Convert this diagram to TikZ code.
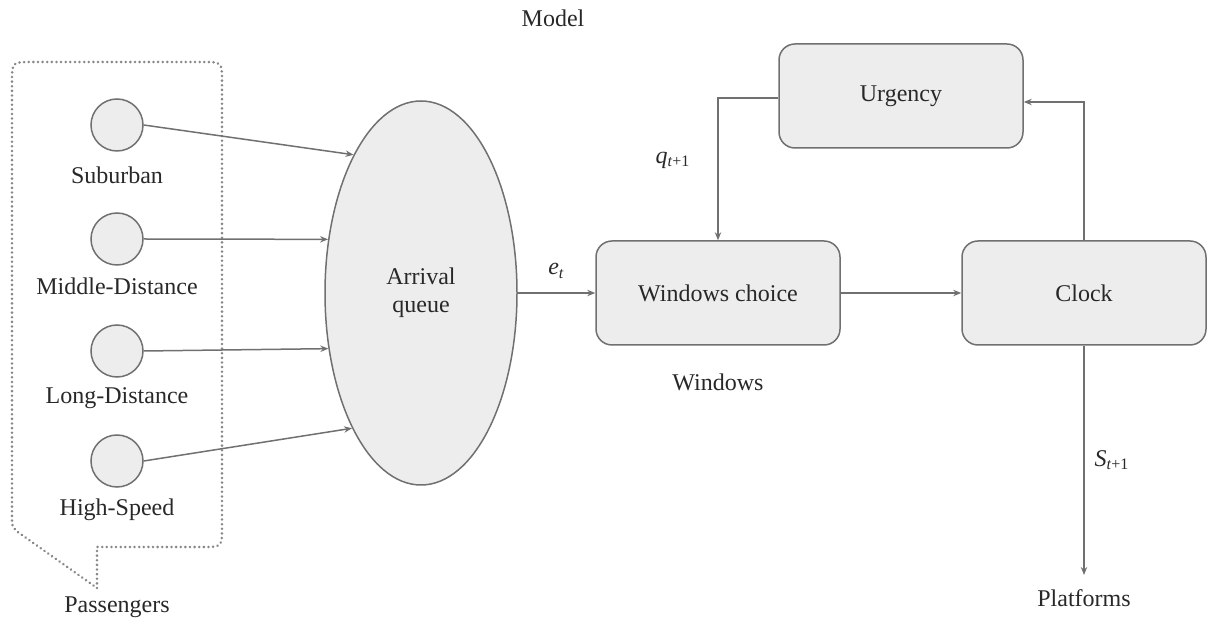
\documentclass[tikz,border=0pt]{standalone}
\usepackage{fontspec}
\setmainfont{LiberationSerif-Regular.ttf}[ItalicFont=LiberationSerif-Italic.ttf,
  BoldFont=LiberationSerif-Bold.ttf]
\usetikzlibrary{shapes.geometric,arrows.meta}
\definecolor{linegray}{RGB}{112,112,112}
\definecolor{boxfill}{RGB}{237,237,237}
\definecolor{dotgray}{RGB}{135,135,135}
\definecolor{ink}{RGB}{40,40,40}
\begin{document}
\begin{tikzpicture}[x=0.5pt,y=-0.5pt,
  font=\fontsize{12}{14}\selectfont, text=ink,
  box/.style={draw=linegray, fill=boxfill, line width=0.75pt, rounded corners=8pt,
    minimum width=122pt, minimum height=52pt, inner sep=0pt},
  src/.style={circle, draw=linegray, fill=boxfill, line width=0.75pt,
    minimum size=26pt, inner sep=0pt},
  queue/.style={ellipse, draw=linegray, fill=boxfill, line width=0.75pt,
    minimum width=96pt, minimum height=192pt, inner sep=0pt, align=center},
  arr/.style={draw=linegray, line width=0.75pt, -{Stealth[length=4pt,width=3.2pt]}},
  lbl/.style={inner sep=0pt},
  bubble/.style={draw=dotgray, line width=1.4pt, line cap=round, dash pattern=on 0.01pt off 2.3pt}]
\useasboundingbox (0,0) rectangle (1210,624);

% title
\node[lbl] (model) at (553,18) {Model};

% passenger group outline (speech bubble)
\draw[bubble] (97,588) -- (97,547) -- (202,547) .. controls (222,547) .. (222,527)
  -- (222,82) .. controls (222,62) .. (202,62) -- (32,62) .. controls (12,62) .. (12,82)
  -- (12,515) .. controls (12,528) .. (22,535) -- (97,588);
\node[lbl] (pass) at (117,607) {Passengers};

% passenger sources
\node[src] (s1) at (117,125) {};
\node[src] (s2) at (117,239) {};
\node[src] (s3) at (117,351) {};
\node[src] (s4) at (117,461) {};
\node[lbl] (l1) at (117,175) {Suburban};
\node[lbl] (l2) at (117,286) {Middle-Distance};
\node[lbl] (l3) at (117,398) {Long-Distance};
\node[lbl] (l4) at (117,510) {High-Speed};

% arrival queue
\node[queue] (aq) at (421,293) {Arrival\\queue};

% boxes
\node[box] (win) at (718,293) {Windows choice};
\node[box] (urg) at (901,96) {Urgency};
\node[box] (clock) at (1084,293) {Clock};
\node[lbl] (winlbl) at (718,382) {Windows};
\node[lbl] (plat) at (1084,598) {Platforms};
\coordinate (platend) at (1084,575);

% connectors
\draw[arr] (s1.east) -- (aq.116.5);
\draw[arr] (s2.east) -- (aq.150.1);
\draw[arr] (s3.east) -- (aq.211.9);
\draw[arr] (s4.east) -- (aq.243.2);
\draw[arr] (aq.east) -- node[lbl, above=7pt] {\textit{e}\textsubscript{\textit{t}}} (win.west);
\draw[arr] (win.east) -- (clock.west);
\draw[arr] ([yshift=-1pt]urg.west) -| (win.north);
\draw[arr] (clock.north) |- ([yshift=-3pt]urg.east);
\draw[arr] (clock.south) -- (platend);

% flow labels
\node[lbl] (q) at (673,160) {\textit{q}\textsubscript{\textit{t}+1}};
\node[lbl] (s) at (1112,460) {\textit{S}\textsubscript{\textit{t}+1}};
\end{tikzpicture}
\end{document}
